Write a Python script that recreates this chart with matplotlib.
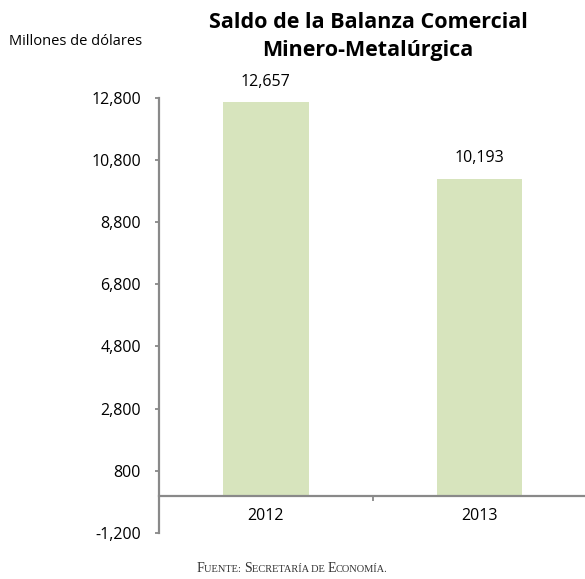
import numpy as np
import matplotlib
matplotlib.use("Agg")
import matplotlib.pyplot as plt

plt.rcParams['font.family'] = ['Open Sans', 'DejaVu Sans']

years = ['2012', '2013']
saldo = [12657, 10193]
yticks = [-1200, 800, 2800, 4800, 6800, 8800, 10800, 12800]
value_labels = ['12,657', '10,193']

bar_color = '#d7e4bd'
axis_grey = '#898989'

fig = plt.figure(figsize=(5.85, 5.79), dpi=100)
ax = fig.add_axes([0.272, 0.0795, 0.73, 0.7515])

x = np.arange(len(years))
ax.bar(x, saldo, width=0.4, color=bar_color, zorder=2)

for xi, v, lab in zip(x, saldo, value_labels):
    ax.annotate(lab, xy=(xi, v), xytext=(0, 9), textcoords='offset points',
                ha='center', va='bottom', fontsize=11.5)

ax.set_xlim(-0.5, 1.5)
ax.set_ylim(-1200, 12800)
ax.set_yticks(yticks)
ax.set_yticklabels([f'{t:,}' for t in yticks])

# category labels as minor ticks, boundary tick as major
ax.set_xticks([0.5])
ax.set_xticklabels([''])
ax.set_xticks(x, minor=True)
ax.set_xticklabels(years, minor=True)
ax.tick_params(axis='x', which='minor', length=0, pad=9, labelsize=11.5)
ax.tick_params(axis='x', which='major', length=3.5, color=axis_grey, width=1.3)
ax.tick_params(axis='y', length=3, color=axis_grey, width=1.3, pad=10,
               labelsize=11.5)

ax.spines['top'].set_visible(False)
ax.spines['right'].set_visible(False)
ax.spines['bottom'].set_position(('data', 0))
for s in ['left', 'bottom']:
    ax.spines[s].set_color(axis_grey)
    ax.spines[s].set_linewidth(1.6)

fig.text(0.629, 0.979, 'Saldo de la Balanza Comercial\nMinero-Metalúrgica',
         ha='center', va='top', fontsize=15.5, fontweight='bold',
         linespacing=1.42)
fig.text(0.016, 0.928, 'Millones de dólares', ha='left', va='center',
         fontsize=10.5)

# footer in small caps, built from pieces
pieces = [('F', 10), ('UENTE: ', 7.5), ('S', 10), ('ECRETARÍA DE ', 7.5),
          ('E', 10), ('CONOMÍA.', 7.5)]
fig.canvas.draw()
renderer = fig.canvas.get_renderer()
texts = []
xpos = 0
for s, size in pieces:
    t = fig.text(0, 0.012, s, fontsize=size, family='Liberation Serif',
                 ha='left', va='baseline', color='#333333')
    w = t.get_window_extent(renderer).width
    texts.append((t, xpos))
    xpos += w
start = 292 - xpos / 2
for t, off in texts:
    t.set_x((start + off) / 585)

fig.savefig('out.png', dpi=100)
